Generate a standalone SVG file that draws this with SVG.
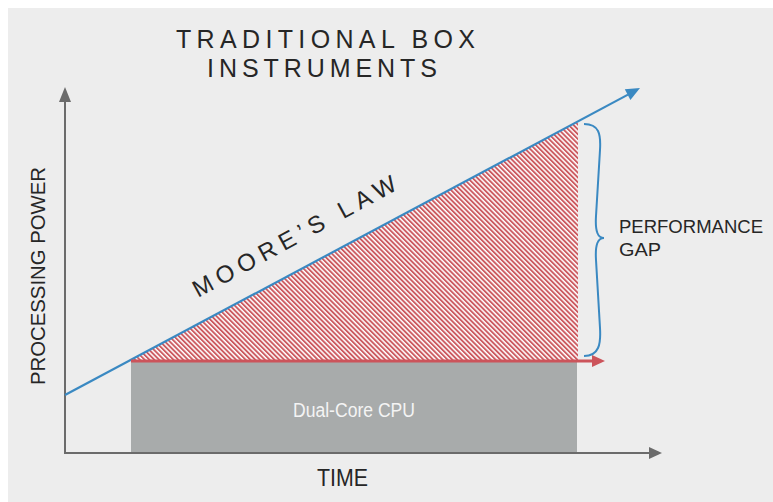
<svg xmlns="http://www.w3.org/2000/svg" width="773" height="502" viewBox="0 0 773 502">
  <style>
    .lbl { font-family: "Liberation Sans", Arial, sans-serif; fill: #262626; }
    .axis { stroke: #6b6b6b; stroke-width: 2; fill: none; }
    .axhead { fill: #6b6b6b; }
  </style>
  <defs>
    <pattern id="hatch" patternUnits="userSpaceOnUse" width="3.4" height="10" patternTransform="rotate(-45)">
      <rect x="0" y="0" width="3.4" height="10" fill="#ffffff"/>
      <rect x="0" y="0" width="1.9" height="10" fill="#cc5a60"/>
    </pattern>
  </defs>
  <rect x="0" y="0" width="773" height="502" fill="#ffffff"/>
  <rect x="8" y="8" width="765" height="494" fill="#ededed"/>

  <g id="title">
    <text class="lbl" x="176" y="48" font-size="25" textLength="299" lengthAdjust="spacing">TRADITIONAL BOX</text>
    <text class="lbl" x="207" y="77" font-size="25" textLength="230" lengthAdjust="spacing">INSTRUMENTS</text>
  </g>

  <g id="cpu-box">
    <rect x="131" y="362" width="446" height="91" fill="#a8abab"/>
    <text x="293" y="417" font-size="20" textLength="122" lengthAdjust="spacingAndGlyphs" font-family="'Liberation Sans', Arial, sans-serif" fill="#f4f4f4">Dual-Core CPU</text>
  </g>

  <g id="performance-gap-area">
    <polygon points="131,359.8 578,121.1 578,361 131,361" fill="url(#hatch)"/>
  </g>

  <g id="connectors">
    <polyline class="axis" points="65,100 65,453 650,453"/>
    <polygon class="axhead" points="65,87 59,102 71,102"/>
    <polygon class="axhead" points="662,453 649,447 649,459"/>
    <line x1="65" y1="395" x2="628" y2="94.6" stroke="#3a89c2" stroke-width="2.2"/>
    <polygon points="640,88 630.4,99.9 624.8,89.3" fill="#3a89c2"/>
    <line x1="131" y1="361" x2="593" y2="361" stroke="#cc545b" stroke-width="3"/>
    <polygon points="605,361 592,355 592,367" fill="#cc545b"/>
    <path d="M584,124 C599,124 601,134 600,150 L596,216 C595,232 598,238 604,238 C598,238 595,244 596,260 L600,328 C601,344 599,356 584,356" fill="none" stroke="#3a89c2" stroke-width="2"/>
  </g>

  <g id="moores-law-label">
    <text class="lbl" font-size="24" transform="translate(198,298) rotate(-28.5)" textLength="228" lengthAdjust="spacing">MOORE’S LAW</text>
  </g>

  <g id="performance-gap-label">
    <text class="lbl" x="619" y="233" font-size="19" textLength="144" lengthAdjust="spacingAndGlyphs">PERFORMANCE</text>
    <text class="lbl" x="619" y="256" font-size="19" textLength="42" lengthAdjust="spacingAndGlyphs">GAP</text>
  </g>

  <g id="axis-labels">
    <text class="lbl" font-size="21" text-anchor="middle" textLength="218" lengthAdjust="spacingAndGlyphs" transform="translate(45,276) rotate(-90)">PROCESSING POWER</text>
    <text class="lbl" x="317" y="486" font-size="24" textLength="51" lengthAdjust="spacingAndGlyphs">TIME</text>
  </g>
</svg>
